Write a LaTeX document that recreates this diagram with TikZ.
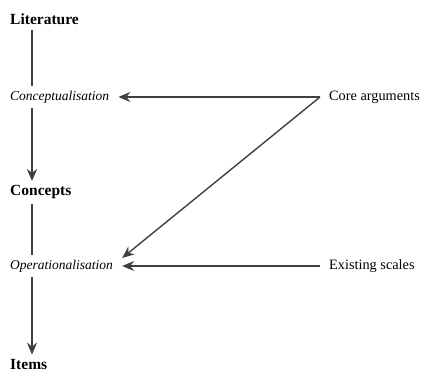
\documentclass[tikz,border=0pt]{standalone}
\usepackage{fontspec}
\setmainfont{Liberation Serif}
\usetikzlibrary{arrows.meta}

\begin{document}
\begin{tikzpicture}[x=1pt,y=1pt,>={Stealth[length=12pt,width=10pt]},
  stage/.style={anchor=west, inner sep=2pt, font=\fontsize{15.5}{17}\selectfont\bfseries},
  process/.style={anchor=west, inner sep=2pt, font=\fontsize{13.5}{15}\selectfont\itshape},
  source/.style={anchor=west, inner sep=2pt, font=\fontsize{14.3}{17}\selectfont},
  link/.style={line width=1.4pt, black!75}]
\useasboundingbox (0,0) rectangle (424,-372);
% left column
\node[stage] (lit) at (8,-19) {Literature};
\node[process] (conc) at (8,-97) {Conceptualisation};
\node[stage] (concepts) at (8,-192) {Concepts};
\node[process] (oper) at (8,-266) {Operationalisation};
\node[stage] (items) at (8,-364) {Items};
% right column
\node[source] (core) at (327,-97) {Core arguments};
\node[source] (exist) at (327,-266) {Existing scales};
\coordinate (spine) at (32,0);
\draw[link] (lit.south -| spine) ++(0,-3) -- ([yshift=3pt]conc.north -| spine);
\draw[link,->] ([yshift=-3pt]conc.south -| spine) -- ([yshift=2pt]concepts.north -| spine);
\draw[link] ([yshift=-3pt]concepts.south -| spine) -- ([yshift=3pt]oper.north -| spine);
\draw[link,->] ([yshift=-3pt]oper.south -| spine) -- ([yshift=2pt]items.north -| spine);
% inputs
\draw[link,->] ([xshift=-7pt]core.west) -- ([xshift=7pt]conc.east);
\draw[link,->] ([xshift=-7pt]core.west) -- ([xshift=7pt,yshift=8pt]oper.east);
\draw[link,->] ([xshift=-7pt]exist.west) -- ([xshift=7pt]oper.east);
\end{tikzpicture}
\end{document}
